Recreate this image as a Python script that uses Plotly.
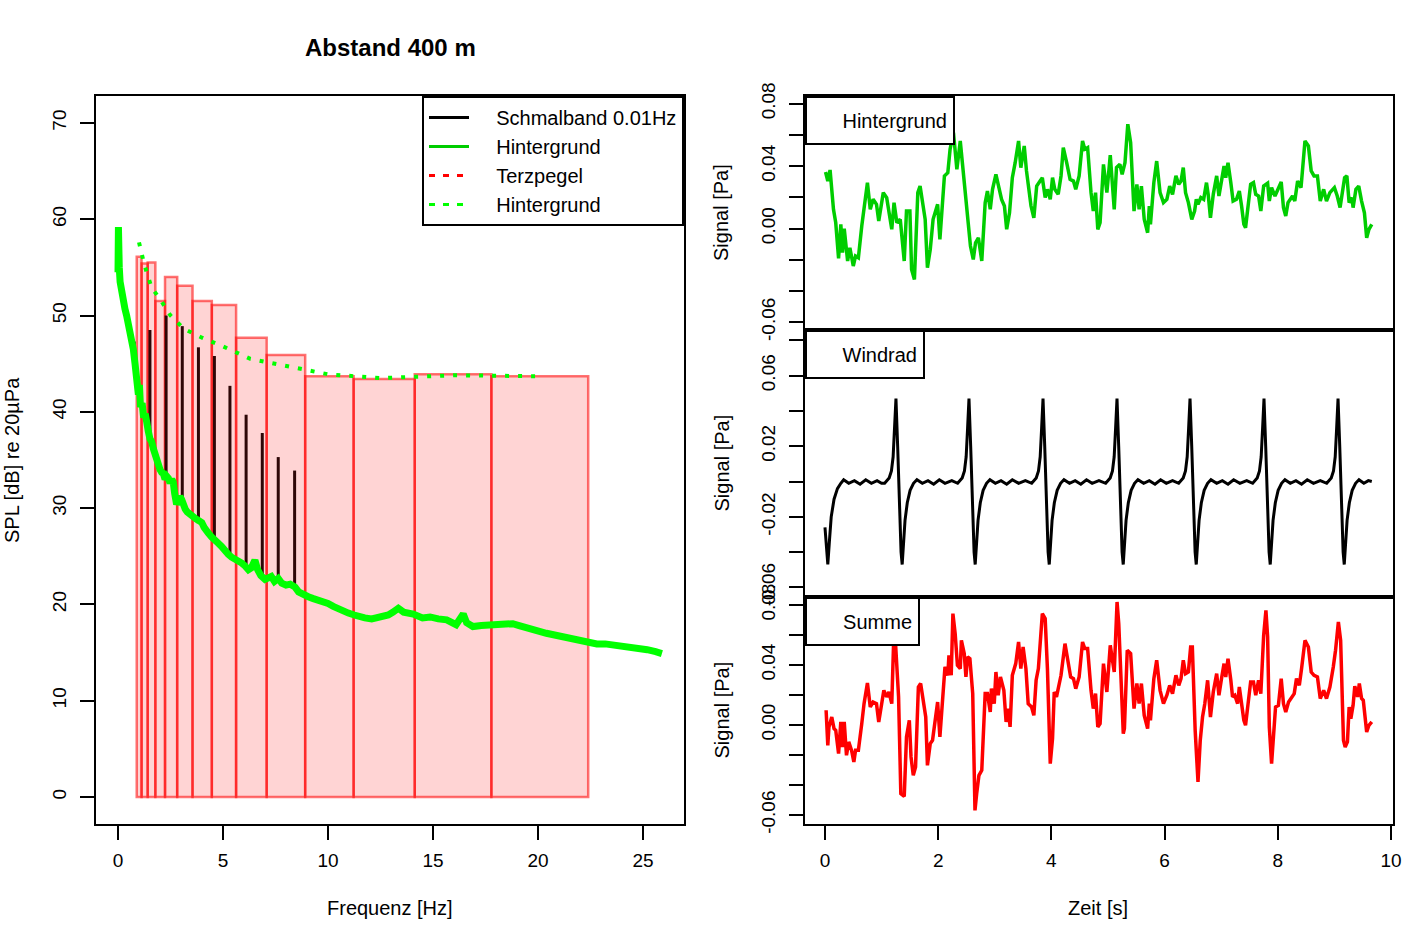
import plotly.graph_objects as go

W, H = 1417, 944
FONT = "Liberation Sans, Arial, Helvetica, sans-serif"

# ---------------- left panel data ----------------
spec_f = [0.0, 0.02, 0.04, 0.06, 0.10, 0.17, 0.25, 0.33, 0.41, 0.49, 0.57, 0.65, 0.73, 0.81, 0.89,
          0.97, 1.02, 1.07, 1.15, 1.22, 1.30, 1.37, 1.44, 1.52, 1.60, 1.68, 1.76, 1.84, 1.92, 2.00,
          2.08, 2.16, 2.24, 2.32, 2.40, 2.48, 2.56, 2.63, 2.70, 2.79, 2.87, 2.95, 3.03, 3.11, 3.20,
          3.30, 3.43, 3.55, 3.70, 3.85, 3.99, 4.10, 4.20, 4.30, 4.46, 4.60, 4.75, 4.94, 5.10, 5.25,
          5.41, 5.60, 5.75, 5.89, 6.05, 6.21, 6.35, 6.52, 6.65, 6.80, 7.00, 7.15, 7.30, 7.45, 7.63,
          7.80, 8.00, 8.20, 8.43, 8.60, 8.80, 9.06, 9.30, 9.50, 9.75, 10.0, 10.25, 10.5, 10.75, 10.97,
          11.25, 11.5, 11.75, 12.08, 12.48, 12.87, 13.1, 13.35, 13.6, 14.06, 14.5, 14.86, 15.25, 15.65, 16.1,
          16.44, 16.6, 16.9, 17.3, 17.7, 18.2, 18.8, 19.1, 19.46, 19.9, 20.4, 20.8, 21.2, 21.6, 22.0,
          22.4, 22.8, 23.2, 23.6, 24.0, 24.4, 24.8, 25.2, 25.6, 25.9]
spec_db = [54.5, 59.2, 56.0, 55.0, 53.5, 52.3, 51.5, 50.7, 50.0, 49.2, 48.3, 47.5, 46.5, 45.0, 43.5,
           41.8, 42.8, 40.5, 40.9, 39.4, 39.8, 38.4, 38.0, 37.2, 36.9, 36.2, 35.5, 35.0, 34.5, 34.0,
           33.7, 33.6, 33.0, 33.3, 33.1, 32.6, 33.0, 32.7, 31.5, 30.4, 30.8, 31.2, 30.9, 30.2, 29.9,
           29.6, 29.3, 29.2, 28.9, 28.7, 28.5, 28.0, 27.6, 27.4, 27.0, 26.6, 26.4, 26.0, 25.5, 25.2,
           24.9, 24.7, 24.6, 24.3, 24.0, 23.6, 23.8, 24.6, 23.6, 23.0, 22.6, 22.8, 22.9, 22.4, 22.7,
           22.2, 22.0, 22.1, 21.8, 21.3, 21.0, 20.8, 20.6, 20.5, 20.2, 20.1, 19.8, 19.5, 19.3, 19.1,
           18.9, 18.7, 18.6, 18.5, 18.7, 18.9, 19.2, 19.6, 19.2, 19.0, 18.6, 18.7, 18.5, 18.4, 17.9,
           19.0, 18.1, 17.7, 17.8, 17.9, 18.0, 18.0, 17.8, 17.5, 17.3, 17.0, 16.8, 16.6, 16.5, 16.3,
           16.1, 15.9, 15.9, 15.8, 15.7, 15.6, 15.4, 15.3, 15.1, 14.9]

# narrowband peaks of the turbine (harmonics)
peak_f = [0.77, 1.52, 2.29, 3.06, 3.83, 4.59, 5.33, 6.10, 6.87, 7.63, 8.41]
peak_top = [47.3, 48.5, 50.0, 48.9, 46.7, 45.8, 42.7, 39.7, 37.8, 35.3, 33.9]
peak_bottom = [45.5, 37.0, 33.0, 30.5, 28.5, 26.5, 25.0, 23.8, 22.8, 22.5, 21.5]

# third-octave bands
band_lo = [0.891, 1.122, 1.413, 1.778, 2.239, 2.818, 3.548, 4.467, 5.623, 7.079, 8.913, 11.22, 14.13, 17.78]
band_hi = [1.122, 1.413, 1.778, 2.239, 2.818, 3.548, 4.467, 5.623, 7.079, 8.913, 11.22, 14.13, 17.78, 22.39]
band_level = [56.1, 55.4, 55.5, 51.5, 54.0, 53.1, 51.5, 51.1, 47.7, 45.9, 43.7, 43.4, 43.9, 43.7]

# third-octave level of background
bg_terz_f = [1.0, 1.25, 1.6, 2.0, 2.5, 3.15, 4.0, 5.0, 6.3, 8.0, 10.0, 12.5, 16.0, 20.0]
bg_terz_db = [57.6, 55.3, 52.9, 51.7, 50.0, 48.6, 47.7, 46.8, 45.5, 44.8, 43.9, 43.5, 43.8, 43.7]

# ---------------- right panel data ----------------
bg_t = [0.01, 0.05, 0.09, 0.15, 0.19, 0.24, 0.28, 0.31, 0.34, 0.37, 0.40, 0.44, 0.50, 0.54, 0.59,
        0.65, 0.69, 0.75, 0.80, 0.85, 0.91, 0.95, 1.03, 1.09, 1.18, 1.22, 1.27, 1.33, 1.40, 1.44,
        1.50, 1.53, 1.58, 1.64, 1.68, 1.77, 1.81, 1.86, 1.91, 1.99, 2.03, 2.11, 2.17, 2.21, 2.27,
        2.33, 2.39, 2.44, 2.49, 2.53, 2.57, 2.62, 2.66, 2.71, 2.77, 2.83, 2.87, 2.92, 2.96, 3.02,
        3.06, 3.12, 3.17, 3.21, 3.26, 3.31, 3.36, 3.42, 3.46, 3.52, 3.56, 3.64, 3.69, 3.74, 3.80,
        3.84, 3.89, 3.93, 3.98, 4.02, 4.06, 4.12, 4.17, 4.21, 4.27, 4.33, 4.39, 4.43, 4.49, 4.55,
        4.59, 4.64, 4.70, 4.74, 4.78, 4.82, 4.86, 4.92, 4.98, 5.04, 5.11, 5.15, 5.21, 5.25, 5.30,
        5.35, 5.40, 5.46, 5.51, 5.55, 5.59, 5.64, 5.70, 5.73, 5.75, 5.81, 5.86, 5.92, 5.98, 6.04,
        6.09, 6.14, 6.20, 6.25, 6.29, 6.33, 6.37, 6.42, 6.48, 6.53, 6.56, 6.59, 6.64, 6.69, 6.74,
        6.77, 6.81, 6.86, 6.92, 6.96, 7.01, 7.05, 7.08, 7.12, 7.17, 7.21, 7.27, 7.32, 7.36, 7.40,
        7.43, 7.48, 7.52, 7.57, 7.61, 7.66, 7.70, 7.75, 7.82, 7.85, 7.89, 7.95, 8.00, 8.06, 8.10,
        8.14, 8.18, 8.26, 8.30, 8.35, 8.41, 8.48, 8.54, 8.59, 8.64, 8.70, 8.75, 8.81, 8.86, 8.92,
        9.00, 9.05, 9.10, 9.18, 9.22, 9.26, 9.31, 9.33, 9.38, 9.43, 9.48, 9.53, 9.57, 9.61, 9.66]
bg_v = [0.0362, 0.0304, 0.0375, 0.0123, 0.0037, -0.0191, 0.0027, -0.0155, -0.0001, -0.0091, -0.0208, -0.0123, -0.0240, -0.0176, -0.0187,
        0.0016, 0.0144, 0.0294, 0.0123, 0.0187, 0.0155, 0.0048, 0.0230, 0.0198, -0.0005, 0.0166, 0.0037, 0.0059, -0.0208, 0.0112,
        0.0112, -0.0262, -0.0326, 0.0230, 0.0272, 0.0059, -0.0251, -0.0134, 0.0059, 0.0155, -0.0069, 0.0337, 0.0358, 0.0508, 0.0614,
        0.0379, 0.0561, 0.0390, 0.0187, 0.0037, -0.0112, -0.0198, -0.0091, -0.0059, -0.0208, 0.0166, 0.0240, 0.0123, 0.0251, 0.0347,
        0.0283, 0.0187, 0.0144, -0.0005, 0.0101, 0.0326, 0.0422, 0.0561, 0.0390, 0.0529, 0.0369, 0.0144, 0.0069, 0.0272, 0.0304,
        0.0326, 0.0198, 0.0251, 0.0187, 0.0326, 0.0251, 0.0219, 0.0337, 0.0518, 0.0422, 0.0315, 0.0304, 0.0251, 0.0337, 0.0561,
        0.0508, 0.0518, 0.0230, 0.0112, 0.0230, -0.0005, 0.0037, 0.0411, 0.0230, 0.0470, 0.0123, 0.0390, 0.0411, 0.0347, 0.0422,
        0.0668, 0.0550, 0.0112, 0.0283, 0.0123, 0.0272, 0.0059, -0.0027, 0.0144, 0.0027, 0.0294, 0.0432, 0.0230, 0.0166, 0.0187,
        0.0272, 0.0219, 0.0337, 0.0283, 0.0304, 0.0390, 0.0230, 0.0166, 0.0059, 0.0112, 0.0187, 0.0155, 0.0198, 0.0187, 0.0294,
        0.0219, 0.0069, 0.0219, 0.0337, 0.0208, 0.0315, 0.0400, 0.0326, 0.0422, 0.0294, 0.0176, 0.0187, 0.0240, 0.0144, 0.0027,
        0.0005, 0.0166, 0.0283, 0.0294, 0.0219, 0.0208, 0.0112, 0.0272, 0.0290, 0.0176, 0.0262, 0.0208, 0.0251, 0.0298, 0.0134,
        0.0080, 0.0166, 0.0208, 0.0176, 0.0304, 0.0262, 0.0561, 0.0529, 0.0369, 0.0337, 0.0337, 0.0176, 0.0251, 0.0176, 0.0230,
        0.0262, 0.0208, 0.0134, 0.0326, 0.0337, 0.0166, 0.0198, 0.0134, 0.0251, 0.0272, 0.0176, 0.0101, -0.0059, -0.0005, 0.0027]

wind_t = [0.00, 0.03, 0.05, 0.08, 0.11, 0.16, 0.22, 0.28, 0.33, 0.42, 0.52, 0.62, 0.72, 0.82, 0.92, 1.00,
          1.054, 1.134, 1.174, 1.204, 1.229, 1.254, 1.284, 1.314, 1.344, 1.364, 1.389, 1.414, 1.454, 1.504, 1.564, 1.624,
          1.72, 1.82, 1.92, 2.02, 2.12, 2.24,
          2.344, 2.424, 2.464, 2.494, 2.519, 2.544, 2.574, 2.604, 2.634, 2.654, 2.679, 2.704, 2.744, 2.794, 2.854, 2.914,
          3.01, 3.11, 3.21, 3.31, 3.42, 3.54,
          3.652, 3.732, 3.772, 3.802, 3.827, 3.852, 3.882, 3.912, 3.942, 3.962, 3.987, 4.012, 4.052, 4.102, 4.162, 4.222,
          4.32, 4.42, 4.52, 4.62, 4.72, 4.84,
          4.959, 5.039, 5.079, 5.109, 5.134, 5.159, 5.189, 5.219, 5.249, 5.269, 5.294, 5.319, 5.359, 5.409, 5.469, 5.529,
          5.63, 5.73, 5.83, 5.93, 6.03, 6.14,
          6.249, 6.329, 6.369, 6.399, 6.424, 6.449, 6.479, 6.509, 6.539, 6.559, 6.584, 6.609, 6.649, 6.699, 6.759, 6.819,
          6.92, 7.02, 7.12, 7.22, 7.33, 7.45,
          7.556, 7.636, 7.676, 7.706, 7.731, 7.756, 7.786, 7.816, 7.846, 7.866, 7.891, 7.916, 7.956, 8.006, 8.066, 8.126,
          8.22, 8.32, 8.42, 8.52, 8.63, 8.75,
          8.864, 8.944, 8.984, 9.014, 9.039, 9.064, 9.094, 9.124, 9.154, 9.174, 9.199, 9.224, 9.264, 9.314, 9.374, 9.434,
          9.52, 9.60, 9.66]
wind_v = [-0.026, -0.040, -0.047, -0.033, -0.020, -0.010, -0.004, -0.001, 0.001, -0.001, 0.0005, -0.0015, 0.001, -0.001, 0.0005, -0.001,
          -0.001, 0.002, 0.006, 0.014, 0.030, 0.047, 0.020, -0.015, -0.040, -0.047, -0.033, -0.022, -0.012, -0.005, -0.001, 0.001,
          -0.001, 0.0005, -0.0015, 0.001, -0.001, 0.0005,
          -0.001, 0.002, 0.006, 0.014, 0.030, 0.047, 0.020, -0.015, -0.040, -0.047, -0.033, -0.022, -0.012, -0.005, -0.001, 0.001,
          -0.001, 0.0005, -0.0015, 0.001, -0.001, 0.0005,
          -0.001, 0.002, 0.006, 0.014, 0.030, 0.047, 0.020, -0.015, -0.040, -0.047, -0.033, -0.022, -0.012, -0.005, -0.001, 0.001,
          -0.001, 0.0005, -0.0015, 0.001, -0.001, 0.0005,
          -0.001, 0.002, 0.006, 0.014, 0.030, 0.047, 0.020, -0.015, -0.040, -0.047, -0.033, -0.022, -0.012, -0.005, -0.001, 0.001,
          -0.001, 0.0005, -0.0015, 0.001, -0.001, 0.0005,
          -0.001, 0.002, 0.006, 0.014, 0.030, 0.047, 0.020, -0.015, -0.040, -0.047, -0.033, -0.022, -0.012, -0.005, -0.001, 0.001,
          -0.001, 0.0005, -0.0015, 0.001, -0.001, 0.0005,
          -0.001, 0.002, 0.006, 0.014, 0.030, 0.047, 0.020, -0.015, -0.040, -0.047, -0.033, -0.022, -0.012, -0.005, -0.001, 0.001,
          -0.001, 0.0005, -0.0015, 0.001, -0.001, 0.0005,
          -0.001, 0.002, 0.006, 0.014, 0.030, 0.047, 0.020, -0.015, -0.040, -0.047, -0.033, -0.022, -0.012, -0.005, -0.001, 0.001,
          -0.001, 0.0005, 0.000]

sum_t = [0.02, 0.05, 0.07, 0.12, 0.16, 0.19, 0.24, 0.28, 0.31, 0.34, 0.38, 0.42, 0.47, 0.51, 0.54,
         0.59, 0.65, 0.69, 0.75, 0.80, 0.85, 0.91, 0.95, 1.04, 1.09, 1.13, 1.18, 1.21, 1.25, 1.30,
         1.34, 1.40, 1.44, 1.49, 1.52, 1.56, 1.60, 1.65, 1.69, 1.74, 1.78, 1.81, 1.86, 1.90, 1.96,
         1.99, 2.03, 2.07, 2.12, 2.17, 2.19, 2.23, 2.26, 2.30, 2.34, 2.39, 2.41, 2.46, 2.49, 2.52,
         2.56, 2.61, 2.65, 2.68, 2.72, 2.77, 2.83, 2.87, 2.92, 2.94, 2.99, 3.02, 3.06, 3.10, 3.16,
         3.20, 3.24, 3.27, 3.31, 3.37, 3.42, 3.46, 3.50, 3.55, 3.59, 3.65, 3.69, 3.73, 3.77, 3.84,
         3.89, 3.93, 3.98, 4.02, 4.05, 4.09, 4.13, 4.17, 4.24, 4.29, 4.34, 4.39, 4.43, 4.49, 4.55,
         4.59, 4.64, 4.70, 4.74, 4.78, 4.82, 4.86, 4.92, 4.98, 5.04, 5.11, 5.16, 5.19, 5.27, 5.29,
         5.34, 5.40, 5.46, 5.51, 5.55, 5.59, 5.64, 5.70, 5.73, 5.75, 5.81, 5.86, 5.92, 5.98, 6.04,
         6.09, 6.14, 6.20, 6.25, 6.29, 6.33, 6.37, 6.42, 6.46, 6.49, 6.54, 6.59, 6.63, 6.67, 6.71,
         6.76, 6.81, 6.86, 6.92, 6.96, 7.01, 7.05, 7.08, 7.12, 7.17, 7.20, 7.24, 7.29, 7.32, 7.36,
         7.40, 7.43, 7.48, 7.52, 7.57, 7.61, 7.66, 7.70, 7.75, 7.79, 7.82, 7.85, 7.89, 7.93, 7.96,
         8.01, 8.06, 8.10, 8.14, 8.19, 8.25, 8.29, 8.33, 8.38, 8.42, 8.48, 8.54, 8.59, 8.64, 8.70,
         8.75, 8.81, 8.86, 8.92, 8.98, 9.02, 9.07, 9.11, 9.16, 9.19, 9.23, 9.26, 9.29, 9.33, 9.36,
         9.41, 9.44, 9.48, 9.51, 9.57, 9.61, 9.66]
sum_v = [0.0098, -0.0136, -0.0013, 0.0053, -0.0024, -0.0036, -0.0191, 0.0020, -0.0147, 0.0020, -0.0202, -0.0113, -0.0169, -0.0247, -0.0169,
         -0.0169, 0.0009, 0.0142, 0.0280, 0.0120, 0.0153, 0.0142, 0.0020, 0.0231, 0.0187, 0.0220, 0.0142, 0.0520, 0.0520, 0.0187,
         -0.0458, -0.0476, -0.0080, 0.0031, -0.0213, -0.0336, -0.0280, 0.0253, 0.0276, 0.0142, 0.0053, -0.0269, -0.0124, -0.0102, 0.0053,
         0.0153, -0.0080, 0.0098, 0.0387, 0.0331, 0.0464, 0.0331, 0.0742, 0.0609, 0.0398, 0.0376, 0.0564, 0.0476, 0.0320, 0.0453,
         0.0442, 0.0209, -0.0569, -0.0458, -0.0336, -0.0302, 0.0209, 0.0209, 0.0087, 0.0242, 0.0142, 0.0353, 0.0198, 0.0320, 0.0231,
         0.0020, 0.0109, -0.0013, 0.0331, 0.0409, 0.0553, 0.0376, 0.0520, 0.0376, 0.0142, 0.0120, 0.0064, 0.0298, 0.0376, 0.0742,
         0.0709, 0.0376, -0.0258, -0.0091, 0.0220, 0.0187, 0.0253, 0.0331, 0.0542, 0.0442, 0.0320, 0.0309, 0.0242, 0.0320, 0.0553,
         0.0509, 0.0509, 0.0231, 0.0109, 0.0209, -0.0013, 0.0009, 0.0409, 0.0220, 0.0531, 0.0353, 0.0820, 0.0676, -0.0058, -0.0024,
         0.0498, 0.0476, 0.0109, 0.0276, 0.0142, 0.0276, 0.0064, -0.0024, 0.0142, 0.0031, 0.0309, 0.0431, 0.0231, 0.0142, 0.0198,
         0.0264, 0.0209, 0.0331, 0.0264, 0.0309, 0.0431, 0.0342, 0.0353, 0.0520, 0.0520, -0.0036, -0.0380, -0.0102, 0.0053, 0.0142,
         0.0298, 0.0053, 0.0220, 0.0342, 0.0198, 0.0320, 0.0409, 0.0320, 0.0442, 0.0298, 0.0187, 0.0198, 0.0142, 0.0253, 0.0142,
         0.0031, -0.0002, 0.0164, 0.0287, 0.0287, 0.0198, 0.0298, 0.0209, 0.0598, 0.0764, 0.0587, -0.0013, -0.0258, -0.0080, 0.0120,
         0.0131, 0.0309, 0.0142, 0.0087, 0.0153, 0.0187, 0.0209, 0.0309, 0.0264, 0.0376, 0.0564, 0.0520, 0.0353, 0.0331, 0.0320,
         0.0176, 0.0231, 0.0176, 0.0253, 0.0387, 0.0498, 0.0687, 0.0564, -0.0102, -0.0147, -0.0113, 0.0120, 0.0042, 0.0131, 0.0258,
         0.0187, 0.0276, 0.0176, 0.0164, -0.0047, -0.0002, 0.0020]

freq_ticks = [0, 5, 10, 15, 20, 25]
db_ticks = [0, 10, 20, 30, 40, 50, 60, 70]
time_ticks = [0, 2, 4, 6, 8, 10]
sig_ticks = [-0.06, -0.04, -0.02, 0.0, 0.02, 0.04, 0.06, 0.08]
sig_text_1 = ["-0.06", "", "", "0.00", "", "0.04", "", "0.08"]
sig_text_2 = ["-0.06", "", "-0.02", "", "0.02", "", "0.06", ""]
sig_text_3 = ["-0.06", "", "", "0.00", "", "0.04", "", "0.08"]

# ---------------- geometry helpers (pixel -> paper) ----------------
def px(x):
    return x / W

def py(y):
    return 1 - y / H

fig = go.Figure()

# third-octave bars
fig.add_trace(go.Bar(
    x=[(a + b) / 2 for a, b in zip(band_lo, band_hi)],
    y=band_level, width=[b - a for a, b in zip(band_lo, band_hi)], base=0,
    marker=dict(color="rgba(255,0,0,0.17)", line=dict(color="rgba(255,0,0,0.55)", width=2.5)),
    xaxis="x", yaxis="y", showlegend=False, hoverinfo="skip"))

# narrowband peaks (seen through the translucent bars)
pk_x, pk_y = [], []
for f, top, bot in zip(peak_f, peak_top, peak_bottom):
    pk_x += [f, f, None]
    pk_y += [bot, top, None]
fig.add_trace(go.Scatter(x=pk_x, y=pk_y, mode="lines", line=dict(color="#2e0606", width=3),
                         xaxis="x", yaxis="y", showlegend=False, hoverinfo="skip"))

# background spectrum
fig.add_trace(go.Scatter(x=spec_f, y=spec_db, mode="lines", line=dict(color="#00FF00", width=7),
                         xaxis="x", yaxis="y", showlegend=False, hoverinfo="skip"))
# background third-octave level
fig.add_trace(go.Scatter(x=bg_terz_f, y=bg_terz_db, mode="lines",
                         line=dict(color="#00FF00", width=4, dash="4px,9px"),
                         xaxis="x", yaxis="y", showlegend=False, hoverinfo="skip"))

# legend entries
PAD = "\u00a0\u00a0\u00a0\u00a0"
for name, col, dash in [("Schmalband 0.01Hz", "black", "solid"), ("Hintergrund", "#00CD00", "solid"),
                        ("Terzpegel", "red", "6px,8px"), ("Hintergrund", "#00FF00", "6px,8px")]:
    fig.add_trace(go.Scatter(x=[None], y=[None], mode="lines", name=PAD + name,
                             line=dict(color=col, width=3, dash=dash), xaxis="x", yaxis="y"))

# right panels
fig.add_trace(go.Scatter(x=bg_t, y=bg_v, mode="lines", line=dict(color="#00CD00", width=3.5),
                         xaxis="x3", yaxis="y2", showlegend=False, hoverinfo="skip"))
fig.add_trace(go.Scatter(x=wind_t, y=wind_v, mode="lines", line=dict(color="black", width=3),
                         xaxis="x4", yaxis="y3", showlegend=False, hoverinfo="skip"))
fig.add_trace(go.Scatter(x=sum_t, y=sum_v, mode="lines", line=dict(color="red", width=3.5),
                         xaxis="x2", yaxis="y4", showlegend=False, hoverinfo="skip"))

axis_common = dict(showline=True, linecolor="black", linewidth=2, mirror=True, showgrid=False,
                   zeroline=False, ticklen=14, tickwidth=2, tickcolor="black", automargin=False,
                   tickfont=dict(family=FONT, size=19, color="black"))
XSO, YSO = 4, 6

xr = [805, 1393]
fig.update_layout(
    width=W, height=H, margin=dict(l=0, r=0, t=0, b=0, pad=0, autoexpand=False),
    paper_bgcolor="white", plot_bgcolor="white", barmode="overlay",
    font=dict(family=FONT, size=20, color="black"),
    xaxis=dict(domain=[px(96), px(684)], range=[-1.048, 26.952], tickvals=freq_ticks, anchor="y",
               ticks="outside", ticklabelstandoff=XSO, **axis_common),
    yaxis=dict(domain=[py(824), py(96)], range=[-2.804, 72.80], tickvals=db_ticks, tickangle=-90, anchor="x",
               ticks="outside", ticklabelstandoff=YSO, **axis_common),
    xaxis2=dict(domain=[px(xr[0]), px(xr[1])], range=[-0.353, 10.035], tickvals=time_ticks, anchor="y4",
                ticks="outside", ticklabelstandoff=XSO, **axis_common),
    xaxis3=dict(domain=[px(xr[0]), px(xr[1])], range=[-0.353, 10.035], matches="x2", anchor="y2",
                showticklabels=False, ticks="", **axis_common),
    xaxis4=dict(domain=[px(xr[0]), px(xr[1])], range=[-0.353, 10.035], matches="x2", anchor="y3",
                showticklabels=False, ticks="", **axis_common),
    yaxis2=dict(domain=[py(330), py(96)], range=[-0.0650, 0.0849], tickvals=sig_ticks, ticktext=sig_text_1,
                tickangle=-90, anchor="x3", ticks="outside", ticklabelstandoff=YSO, **axis_common),
    yaxis3=dict(domain=[py(597), py(330)], range=[-0.0654, 0.0858], tickvals=sig_ticks, ticktext=sig_text_2,
                tickangle=-90, anchor="x4", ticks="outside", ticklabelstandoff=YSO, **axis_common),
    yaxis4=dict(domain=[py(824), py(597)], range=[-0.0660, 0.0853], tickvals=sig_ticks, ticktext=sig_text_3,
                tickangle=-90, anchor="x2", ticks="outside", ticklabelstandoff=YSO, **axis_common),
    legend=dict(x=px(684), xanchor="right", y=py(96), yanchor="top", bgcolor="white",
                bordercolor="black", borderwidth=2, font=dict(family=FONT, size=20, color="black"),
                itemwidth=40, tracegroupgap=0),
)

ann = []
def text_ann(x, y, text, **kw):
    d = dict(x=px(x), y=py(y), xref="paper", yref="paper", text=text, showarrow=False,
             xanchor="center", yanchor="middle")
    d.update(kw)
    ann.append(d)

text_ann(390, 48, "<b>Abstand 400 m</b>", font=dict(size=24))
text_ann(390, 908, "Frequenz [Hz]")
text_ann(1098, 908, "Zeit [s]")
text_ann(12, 460, "SPL [dB] re 20µPa", textangle=-90)
for yc in [213, 463.5, 710.5]:
    text_ann(721, yc, "Signal [Pa]", textangle=-90)
for label, ytop, wbox in [("Hintergrund", 96, 148), ("Windrad", 330, 118), ("Summe", 597, 113)]:
    ann.append(dict(x=px(805), y=py(ytop), xref="paper", yref="paper", xanchor="left", yanchor="top",
                    text=label, showarrow=False, align="right", width=wbox - 14, height=33,
                    borderpad=6, bordercolor="black", borderwidth=2, bgcolor="white"))
fig.update_layout(annotations=ann)

fig.write_html("out.html", config={"displayModeBar": False},
               post_script="document.body.style.margin='0px';")
